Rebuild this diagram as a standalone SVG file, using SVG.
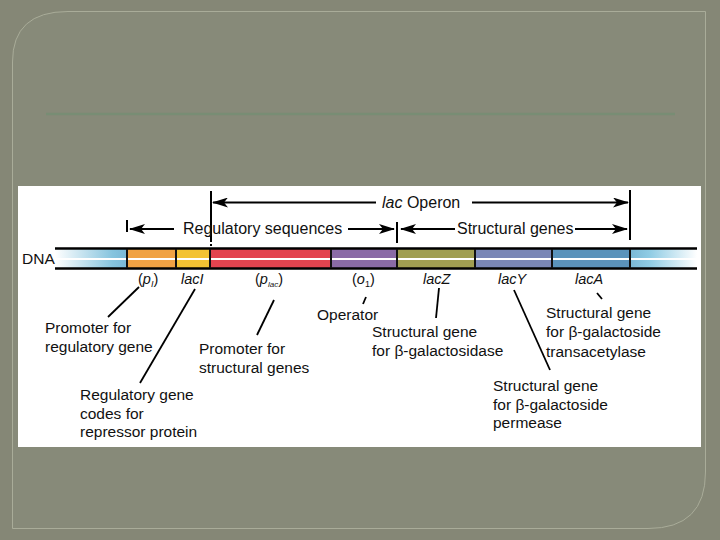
<svg xmlns="http://www.w3.org/2000/svg" width="720" height="540" viewBox="0 0 720 540">
<defs>
<style>
text{font-family:"Liberation Sans",Arial,sans-serif;font-size:15.5px;fill:#111}
.hd{font-size:16px}
.gl{font-size:14.5px}
.it{font-style:italic}
.ln{stroke:#000;stroke-width:2;fill:none}
.ld{stroke:#000;stroke-width:1.8;fill:none}
.sep{stroke:#111;stroke-width:2}
</style>
<linearGradient id="gL" x1="0" x2="1" y1="0" y2="0"><stop offset="0" stop-color="#ffffff"/><stop offset="0.8" stop-color="#86c4de"/><stop offset="1" stop-color="#7ab8d6"/></linearGradient>
<linearGradient id="gR" x1="0" x2="1" y1="0" y2="0"><stop offset="0" stop-color="#7ab8d6"/><stop offset="0.3" stop-color="#90cce4"/><stop offset="1" stop-color="#ffffff"/></linearGradient>
<marker id="ah" viewBox="0 0 16 10" refX="15" refY="5" markerWidth="16" markerHeight="10" markerUnits="userSpaceOnUse" orient="auto-start-reverse">
<path d="M0,0 L16,5 L0,10 L4,5 z" fill="#000"/>
</marker>
</defs>
<rect width="720" height="540" fill="#858776"/>
<path d="M68,11.5 H705.5 V472 Q705.5,528.5 648,528.5 H12.5 V62 Q12.5,11.5 68,11.5 Z" fill="#878a79" stroke="#a9ac99" stroke-width="1"/>
<line x1="46" y1="114" x2="675" y2="114" stroke="#788d74" stroke-width="2.5"/>
<rect x="18" y="186" width="683" height="261" fill="#ffffff"/>

<g id="dna">
<rect x="55" y="249" width="72" height="19" fill="url(#gL)"/>
<rect x="127" y="249" width="49" height="19" fill="#f0a244"/>
<rect x="176" y="249" width="34" height="19" fill="#f3c233"/>
<rect x="210" y="249" width="121" height="19" fill="#e3444f"/>
<rect x="331" y="249" width="66" height="19" fill="#8a6ba6"/>
<rect x="397" y="249" width="78" height="19" fill="#a09e52"/>
<rect x="475" y="249" width="77" height="19" fill="#7a87b6"/>
<rect x="552" y="249" width="78" height="19" fill="#5b93bb"/>
<rect x="630" y="249" width="67" height="19" fill="url(#gR)"/>
<line x1="55" y1="259" x2="697" y2="259" stroke="#fff" stroke-width="2"/>
<line x1="55" y1="248.5" x2="697" y2="248.5" stroke="#000" stroke-width="2.5"/>
<line x1="55" y1="268.5" x2="697" y2="268.5" stroke="#000" stroke-width="2.5"/>
<g class="sep">
<line x1="127" y1="249" x2="127" y2="268"/>
<line x1="176" y1="249" x2="176" y2="268"/>
<line x1="210" y1="249" x2="210" y2="268"/>
<line x1="331" y1="249" x2="331" y2="268"/>
<line x1="397" y1="249" x2="397" y2="268"/>
<line x1="475" y1="249" x2="475" y2="268"/>
<line x1="552" y1="249" x2="552" y2="268"/>
<line x1="630" y1="249" x2="630" y2="268"/>
</g>
<text x="22" y="264">DNA</text>
</g>

<g id="brackets">
<line class="ln" x1="211" y1="191" x2="211" y2="240"/>
<line class="ln" x1="211" y1="240" x2="211" y2="246" stroke-dasharray="2,2"/>
<line class="ln" x1="630" y1="190" x2="630" y2="240"/>
<line class="ln" x1="127" y1="220" x2="127" y2="232"/>
<line class="ln" x1="397" y1="222" x2="397" y2="243"/>
</g>

<g id="connectors">
<line class="ln" x1="376" y1="202.5" x2="213" y2="202.5" marker-end="url(#ah)"/>
<line class="ln" x1="472" y1="202.5" x2="628" y2="202.5" marker-end="url(#ah)"/>
<line class="ln" x1="174" y1="229" x2="130" y2="229" marker-end="url(#ah)"/>
<line class="ln" x1="348" y1="229" x2="394" y2="229" marker-end="url(#ah)"/>
<line class="ln" x1="455" y1="229" x2="401" y2="229" marker-end="url(#ah)"/>
<line class="ln" x1="575" y1="229" x2="627" y2="229" marker-end="url(#ah)"/>
<line class="ld" x1="139" y1="287" x2="108" y2="317"/>
<line class="ld" x1="195" y1="289" x2="140" y2="383"/>
<line class="ld" x1="274" y1="300" x2="257" y2="335"/>
<line class="ld" x1="366" y1="297" x2="363" y2="304"/>
<line class="ld" x1="439" y1="288" x2="436" y2="318"/>
<line class="ld" x1="514" y1="290" x2="550" y2="370"/>
<line class="ld" x1="597" y1="293" x2="602" y2="299"/>
</g>

<g id="header-labels">
<text class="hd" x="382" y="208"><tspan class="it">lac</tspan> Operon</text>
<text class="hd" x="183" y="234">Regulatory sequences</text>
<text class="hd" x="457" y="234">Structural genes</text>
</g>

<g id="gene-labels">
<text class="gl" x="138" y="284">(<tspan class="it">p</tspan><tspan class="it" font-size="9" dy="3">I</tspan><tspan dy="-3">)</tspan></text>
<text class="gl it" x="181" y="284">lacI</text>
<text class="gl" x="255" y="284">(<tspan class="it">p</tspan><tspan class="it" font-size="8" dy="3">lac</tspan><tspan dy="-3">)</tspan></text>
<text class="gl" x="352" y="284">(<tspan class="it">o</tspan><tspan font-size="9" dy="3">1</tspan><tspan dy="-3">)</tspan></text>
<text class="gl it" x="423" y="284">lacZ</text>
<text class="gl it" x="498" y="284">lacY</text>
<text class="gl it" x="575" y="284">lacA</text>
</g>

<g id="promoter-regulatory">
<text x="45" y="333">Promoter for</text>
<text x="45" y="352">regulatory gene</text>
</g>
<g id="regulatory-gene">
<text x="80" y="400">Regulatory gene</text>
<text x="80" y="419">codes for</text>
<text x="80" y="437">repressor protein</text>
</g>
<g id="promoter-structural">
<text x="199" y="354">Promoter for</text>
<text x="199" y="373">structural genes</text>
</g>
<g id="operator">
<text x="317" y="320">Operator</text>
</g>
<g id="lacZ-desc">
<text x="372" y="337">Structural gene</text>
<text x="372" y="356">for β-galactosidase</text>
</g>
<g id="lacY-desc">
<text x="493" y="391">Structural gene</text>
<text x="493" y="410">for β-galactoside</text>
<text x="493" y="428">permease</text>
</g>
<g id="lacA-desc">
<text x="546" y="318">Structural gene</text>
<text x="546" y="337">for β-galactoside</text>
<text x="546" y="357">transacetylase</text>
</g>
</svg>
